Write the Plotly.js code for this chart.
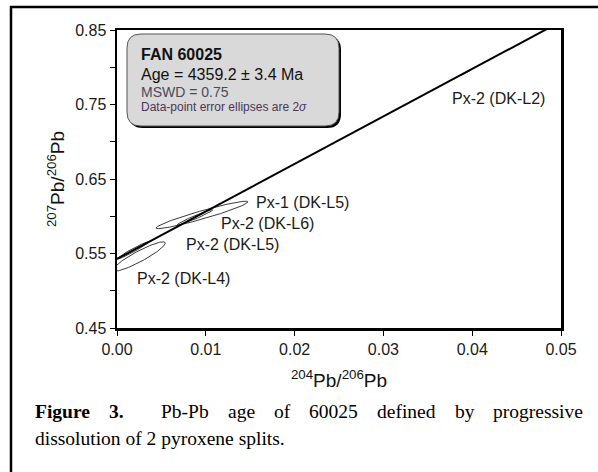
<!DOCTYPE html>
<html><head><meta charset="utf-8">
<script src="https://cdn.plot.ly/plotly-3.0.1.min.js"></script>
<style>html,body{margin:0;padding:0;background:#fff}#chart{width:598px;height:472px}</style>
</head><body><div id="chart"></div>
<script>
// ---- data ----
const isoX = [0.0, 0.05];                 // isochron end x
const isoY = [0.5427, 0.8615];            // isochron end y
const ellX   = [0.0025, 0.0018, 0.00878, 0.00957, 0.0393];   // ellipse centres 204/206
const ellY   = [0.5460, 0.5542, 0.5985, 0.6018, 0.7930];    // ellipse centres 207/206
const ellSX  = [0.00147, 0.0009, 0.0010, 0.00259, 0.0003];  // 1 sigma x
const ellSY  = [0.00985, 0.00588, 0.00514, 0.0092, 0.0019]; // 1 sigma y
const ellRho = [0.914, 0.977, 0.973, 0.95, 0.985];          // error correlation
const ptLabels = ['Px-2 (DK-L4)', 'Px-2 (DK-L5)', 'Px-2 (DK-L6)', 'Px-1 (DK-L5)', 'Px-2 (DK-L2)'];
const labelX = [0.00751, 0.01306, 0.01695, 0.02089, 0.04298];
const labelY = [0.5167, 0.5627, 0.5905, 0.6187, 0.7574];
const xTicks = [0.00, 0.01, 0.02, 0.03, 0.04, 0.05];
const yTicks = [0.45, 0.55, 0.65, 0.75, 0.85];
const boxLines = ['<b>FAN 60025</b>', 'Age = 4359.2 ± 3.4 Ma', 'MSWD = 0.75', 'Data-point error ellipses are 2<i>σ</i>'];
const captionLine1 = ['Figure', '3.', 'Pb-Pb', 'age', 'of', '60025', 'defined', 'by', 'progressive'];
const captionLine2 = 'dissolution of 2 pyroxene splits.';

// ---- geometry ----
const L = 117, R = 561, T = 30, B = 328, W = 598, H = 472;
const px = v => (v - L) / (R - L);
const py = v => (B - v) / (B - T);
const P = (x, y) => px(x).toFixed(5) + ',' + py(y).toFixed(5);

function roundRect(l, t, r, b, rad) {
  return 'M' + P(l + rad, t) + ' L' + P(r - rad, t) + ' Q' + P(r, t) + ' ' + P(r, t + rad) +
    ' L' + P(r, b - rad) + ' Q' + P(r, b) + ' ' + P(r - rad, b) +
    ' L' + P(l + rad, b) + ' Q' + P(l, b) + ' ' + P(l, b - rad) +
    ' L' + P(l, t + rad) + ' Q' + P(l, t) + ' ' + P(l + rad, t) + ' Z';
}

const traces = [];
for (let i = 0; i < ellX.length; i++) {
  const xs = [], ys = [];
  for (let k = 0; k <= 120; k++) {
    const a = 2 * Math.PI * k / 120;
    xs.push(ellX[i] + 2 * ellSX[i] * Math.cos(a));
    ys.push(ellY[i] + 2 * ellSY[i] * (ellRho[i] * Math.cos(a) + Math.sqrt(1 - ellRho[i] * ellRho[i]) * Math.sin(a)));
  }
  traces.push({x: xs, y: ys, mode: 'lines', line: {color: '#3a3a3a', width: 1}, hoverinfo: 'skip'});
}
traces.push({x: isoX, y: isoY, mode: 'lines', line: {color: '#000', width: 2}, hoverinfo: 'skip'});

const sans = '"Liberation Sans", Arial, sans-serif';
const serif = '"Liberation Serif", "Times New Roman", serif';
const ann = [];
for (let i = 0; i < ptLabels.length; i++) {
  ann.push({x: labelX[i], y: labelY[i], xref: 'x', yref: 'y', text: ptLabels[i], showarrow: false,
    font: {family: sans, size: 16, color: '#1a1a1a'}});
}
const boxY = [54, 75, 92, 107];
const boxSize = [16, 16, 14, 12];
const boxColor = ['#111', '#111', '#4a4a5c', '#4d3557'];
boxLines.forEach((t, i) => ann.push({x: px(140), y: py(boxY[i]), xref: 'paper', yref: 'paper', xanchor: 'left',
  yanchor: 'middle', text: t, showarrow: false, borderpad: 0, font: {family: sans, size: boxSize[i], color: boxColor[i]}}));

// caption, justified line 1
const cv = document.createElement('canvas').getContext('2d');
const capSize = 19.5;
const widths = captionLine1.map((w, i) => { cv.font = (i < 2 ? 'bold ' : '') + capSize + 'px "Liberation Serif"'; return cv.measureText(w).width; });
const spaces = [1, 2, 1, 1, 1, 1, 1, 1];
const nSp = spaces.reduce((a, b) => a + b, 0);
const lineL = 34, lineR = 582;
const unit = (lineR - lineL - widths.reduce((a, b) => a + b, 0)) / nSp;
let cx = lineL;
captionLine1.forEach((w, i) => {
  ann.push({x: px(cx), y: py(411), xref: 'paper', yref: 'paper', xanchor: 'left', yanchor: 'middle', borderpad: 0,
    text: i < 2 ? '<b>' + w + '</b>' : w, showarrow: false, font: {family: serif, size: capSize, color: '#000'}});
  cx += widths[i] + (i < spaces.length ? spaces[i] * unit : 0);
});
ann.push({x: px(lineL), y: py(438), xref: 'paper', yref: 'paper', xanchor: 'left', yanchor: 'middle', borderpad: 0,
  text: captionLine2, showarrow: false, font: {family: serif, size: capSize, color: '#000'}});

const shapes = [
  {type: 'path', xref: 'paper', yref: 'paper', path: 'M' + P(11, 480) + ' L' + P(11, 7) + ' L' + P(620, 7),
    line: {color: '#000', width: 2.5}},
  {type: 'path', xref: 'paper', yref: 'paper', path: roundRect(129, 36, 341, 128, 14), fillcolor: '#000', line: {width: 0}, layer: 'above'},
  {type: 'path', xref: 'paper', yref: 'paper', path: roundRect(127, 34, 339, 126, 14), fillcolor: '#d9d9d9', line: {color: '#555', width: 1}, layer: 'above'}
];

const axisBase = {showline: true, linewidth: 2.5, linecolor: '#000', mirror: true, showgrid: false, zeroline: false,
  ticks: 'outside', ticklen: 5, tickwidth: 1, tickcolor: '#000', tickformat: '.2f',
  tickfont: {family: sans, size: 16, color: '#1a1a1a'}};

const layout = {
  width: W, height: H, margin: {l: L, r: W - R, t: T, b: H - B}, showlegend: false, hovermode: false,
  paper_bgcolor: '#fff', plot_bgcolor: '#fff',
  xaxis: Object.assign({}, axisBase, {range: [0, 0.05], tickvals: xTicks,
    title: {text: '<sup>204</sup>Pb/<sup>206</sup>Pb', font: {family: sans, size: 19, color: '#111'}, standoff: 17}}),
  yaxis: Object.assign({}, axisBase, {range: [0.45, 0.85], tickvals: yTicks,
    minor: {tickvals: [0.50, 0.60, 0.70, 0.80], ticks: 'outside', ticklen: 5, tickwidth: 1, tickcolor: '#000'},
    title: {text: '<sup>207</sup>Pb/<sup>206</sup>Pb', font: {family: sans, size: 19, color: '#111'}, standoff: 6}}),
  annotations: ann, shapes: shapes
};
Plotly.newPlot('chart', traces, layout, {staticPlot: true});
</script></body></html>
